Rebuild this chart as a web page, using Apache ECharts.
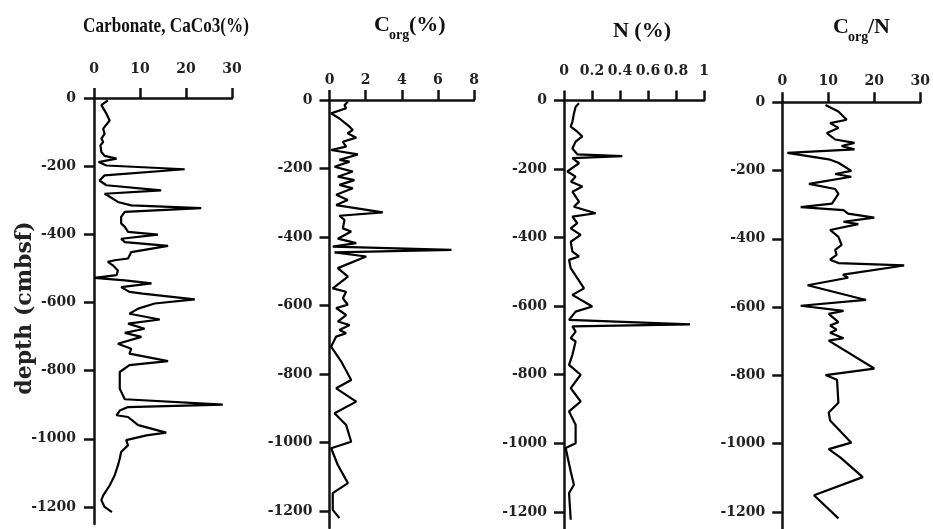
<!DOCTYPE html>
<html>
<head>
<meta charset="utf-8">
<script src="https://cdn.jsdelivr.net/npm/echarts@6/dist/echarts.min.js"></script>
<style>html,body{margin:0;padding:0;background:#fff}#c{width:933px;height:529px}</style>
</head>
<body>
<div id="c"></div>
<script>
// depth tick labels (cmbsf)
const depthTicks = [0, -200, -400, -600, -800, -1000, -1200];

// Carbonate, CaCO3 (%)
const carbDepth = [-7,-21,-46,-66,-90,-105,-119,-129,-139,-158,-170,-178,-188,-198,-209,-227,-242,-256,-271,-281,-286,-305,-315,-323,-334,-349,-368,-378,-393,-401,-413,-423,-434,-452,-471,-476,-481,-491,-506,-520,-528,-535,-544,-555,-569,-574,-591,-603,-618,-633,-650,-662,-677,-689,-701,-721,-736,-750,-772,-784,-804,-853,-884,-900,-907,-917,-931,-936,-960,-982,-990,-1004,-1019,-1039,-1058,-1078,-1107,-1137,-1166,-1180,-1200,-1215];
const carbVal   = [3.0,1.6,2.7,3.4,2.0,2.3,1.6,2.0,1.4,1.6,2.3,4.9,1.0,2.7,19.7,2.3,1.2,2.7,14.6,2.3,3.0,5.2,8.1,23.3,6.7,5.9,5.9,6.7,7.4,13.9,5.9,6.7,16.1,8.1,7.4,4.5,3.0,4.1,5.2,4.9,0.1,6.7,12.5,5.9,7.7,10.6,21.9,13.2,9.6,7.7,14.3,7.4,11.0,6.7,10.3,5.2,8.1,7.7,16.1,7.7,5.6,5.6,6.7,28.0,7.4,5.6,4.9,7.4,9.6,15.7,11.4,7.0,7.4,5.9,5.6,5.2,4.5,3.4,2.0,1.6,2.3,3.9];

// Corg (%)
const corgDepth = [-5,-15,-24,-39,-54,-78,-88,-97,-110,-122,-136,-146,-159,-175,-180,-195,-209,-224,-234,-248,-258,-277,-292,-307,-328,-338,-350,-375,-384,-405,-418,-428,-438,-445,-457,-491,-516,-550,-560,-579,-598,-608,-628,-647,-657,-672,-681,-691,-720,-764,-818,-842,-881,-915,-949,-998,-1017,-1066,-1119,-1148,-1197,-1221];
const corgVal   = [1.01,0.83,0.92,0.09,0.55,1.11,1.29,1.0,1.48,0.74,0.92,0.09,1.57,0.55,1.11,0.28,1.29,0.46,1.38,0.55,1.29,0.37,1.01,0.37,2.95,0.55,0.83,0.74,1.20,0.46,1.48,0.18,6.75,0.28,2.03,0.46,1.02,0.18,0.92,0.74,1.01,0.37,0.92,0.46,1.11,0.55,0.92,0.37,0.09,0.65,1.2,0.37,1.48,0.28,0.92,1.2,0.09,0.46,1.02,0.18,0.18,0.55];

// N (%)
const nDepth = [-8,-18,-40,-62,-76,-91,-105,-120,-140,-157,-162,-168,-183,-207,-222,-237,-251,-266,-295,-310,-329,-339,-358,-373,-392,-412,-441,-455,-465,-489,-548,-567,-601,-616,-640,-653,-659,-674,-693,-703,-742,-771,-800,-839,-878,-907,-946,-1000,-1014,-1082,-1121,-1145,-1223];
const nVal   = [0.107,0.083,0.07,0.06,0.048,0.095,0.131,0.083,0.06,0.095,0.417,0.06,0.107,0.024,0.083,0.05,0.131,0.06,0.107,0.071,0.226,0.06,0.095,0.048,0.119,0.048,0.06,0.107,0.036,0.048,0.143,0.06,0.202,0.083,0.036,0.9,0.06,0.083,0.048,0.083,0.06,0.036,0.119,0.048,0.119,0.036,0.083,0.083,0.012,0.048,0.071,0.036,0.048];

// Corg/N
const cnDepth = [-8,-27,-51,-61,-75,-90,-109,-119,-128,-138,-148,-167,-177,-201,-210,-218,-239,-254,-268,-297,-307,-316,-326,-338,-350,-357,-374,-394,-418,-432,-447,-461,-471,-478,-505,-514,-536,-579,-596,-611,-620,-644,-654,-666,-675,-691,-698,-780,-799,-813,-880,-909,-932,-997,-1016,-1040,-1098,-1151,-1219];
const cnVal   = [9.4,12.2,14.0,10.4,12.2,9.7,11.5,15.7,12.9,15.7,1.1,10.1,12.2,15.0,11.5,15.0,5.8,11.5,12.2,10.8,4.0,13.3,14.3,20.0,13.3,16.5,10.4,12.2,12.9,11.5,11.8,10.4,12.2,26.5,13.2,14.3,5.5,18.2,4.0,13.3,10.1,12.2,10.4,11.8,10.4,13.3,10.1,20.0,9.4,11.9,12.2,10.1,10.4,15.0,10.1,12.6,17.5,6.9,12.2];

// x-axis scales
const carbAxis = {min: 0, max: 30, interval: 10};
const corgAxis = {min: 0, max: 8, interval: 2};
const nAxis    = {min: 0, max: 1, interval: 0.2};
const cnAxis   = {min: 0, max: 30, interval: 10};

const panels = [
  {d: carbDepth, v: carbVal, ax: carbAxis, grid: {left: 94, top: 98, width: 138, height: 426}, xm: 22, ym: 18},
  {d: corgDepth, v: corgVal, ax: corgAxis, grid: {left: 329.5, top: 100, width: 144.5, height: 428}, xm: 13, ym: 17},
  {d: nDepth, v: nVal, ax: nAxis, grid: {left: 564, top: 100.5, width: 140, height: 429}, xm: 22, ym: 17},
  {d: cnDepth, v: cnVal, ax: cnAxis, grid: {left: 782.3, top: 102.3, width: 140, height: 431}, xm: 14, ym: 17}
];

const ink = '#111';
const tickFont = {fontFamily: '"DejaVu Serif"', fontWeight: 'bold', fontSize: 14, color: '#222'};
const plain = v => String(Math.round(v * 1000) / 1000);

const grids = [], xAxes = [], yAxes = [], series = [];
panels.forEach((p, i) => {
  grids.push(Object.assign({containLabel: false}, p.grid));
  xAxes.push({
    type: 'value', gridIndex: i, position: 'top',
    min: p.ax.min, max: p.ax.max, interval: p.ax.interval,
    splitLine: {show: false},
    axisLine: {show: true, onZero: false, lineStyle: {color: ink, width: 2.5}},
    axisTick: {show: true, inside: false, length: 10, lineStyle: {color: ink, width: 2.5}},
    axisLabel: Object.assign({margin: p.xm, formatter: plain}, tickFont)
  });
  yAxes.push({
    type: 'value', gridIndex: i, min: -1250, max: 0,
    splitLine: {show: false},
    axisLine: {show: true, onZero: false, lineStyle: {color: ink, width: 2.5}},
    axisTick: {show: true, inside: false, length: 10, customValues: depthTicks, lineStyle: {color: ink, width: 2.5}},
    axisLabel: Object.assign({margin: p.ym, customValues: depthTicks, formatter: plain}, tickFont)
  });
  series.push({
    type: 'line', xAxisIndex: i, yAxisIndex: i, showSymbol: false, clip: false,
    data: p.d.map((d, k) => [p.v[k], d]),
    lineStyle: {color: '#000', width: 2.2}, animation: false
  });
});

const tf = 'bold 22px "Liberation Serif"';
const sf = 'bold 14px "Liberation Serif"';
const graphic = [
  {type: 'text', x: 166, y: 26, scaleX: 0.78, style: {text: 'Carbonate, CaCo3(%)', font: tf, fill: ink, align: 'center', verticalAlign: 'middle'}},
  {type: 'text', x: 374, y: 25, style: {text: 'C', font: tf, fill: ink, align: 'left', verticalAlign: 'middle'}},
  {type: 'text', x: 389, y: 35, style: {text: 'org', font: sf, fill: ink, align: 'left', verticalAlign: 'middle'}},
  {type: 'text', x: 409, y: 25, style: {text: '(%)', font: tf, fill: ink, align: 'left', verticalAlign: 'middle'}},
  {type: 'text', x: 642, y: 31, style: {text: 'N (%)', font: tf, fill: ink, align: 'center', verticalAlign: 'middle'}},
  {type: 'text', x: 833, y: 27, style: {text: 'C', font: tf, fill: ink, align: 'left', verticalAlign: 'middle'}},
  {type: 'text', x: 848, y: 37, style: {text: 'org', font: sf, fill: ink, align: 'left', verticalAlign: 'middle'}},
  {type: 'text', x: 868, y: 27, style: {text: '/N', font: tf, fill: ink, align: 'left', verticalAlign: 'middle'}},
  {type: 'text', x: 25, y: 308, rotation: Math.PI / 2, style: {text: 'depth (cmbsf)', font: 'bold 22px "DejaVu Serif"', fill: '#222', align: 'center', verticalAlign: 'middle'}}
];

const chart = echarts.init(document.getElementById('c'), null, {renderer: 'canvas'});
chart.setOption({
  animation: false,
  backgroundColor: '#fff',
  grid: grids, xAxis: xAxes, yAxis: yAxes, series: series, graphic: graphic
});
</script>
</body>
</html>
